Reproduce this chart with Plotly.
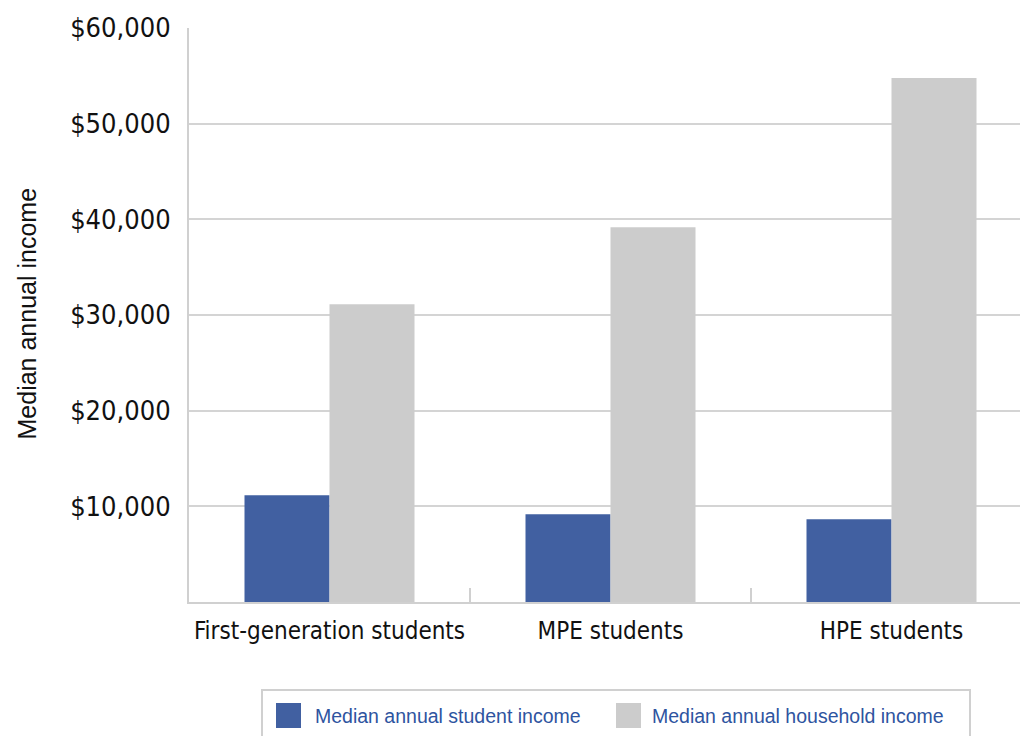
import plotly.graph_objects as go

categories = ["First-generation students", "MPE students", "HPE students"]
student_income = [11150, 9160, 8640]
household_income = [31130, 39180, 54770]
series_names = ["Median annual student income", "Median annual household income"]
series_colors = ["#4160A1", "#CCCCCC"]
y_ticks = [0, 10000, 20000, 30000, 40000, 50000, 60000]
y_tick_labels = ["", "$10,000", "$20,000", "$30,000", "$40,000", "$50,000", "$60,000"]

TICK_FONT = "DejaVu Sans Condensed, Liberation Sans Narrow, sans-serif"
LEG_FONT = "Liberation Sans, Arial, sans-serif"

fig = go.Figure()
for name, vals, col in zip(series_names, [student_income, household_income], series_colors):
    fig.add_trace(go.Bar(x=categories, y=vals, name=name, marker=dict(color=col, line=dict(width=0)),
                         showlegend=False))

W, H = 1020, 736
L, R, T, B = 189, 0, 28, 134
pw = W - L - R
ph = H - T - B

fig.update_layout(
    width=W, height=H,
    margin=dict(l=L, r=R, t=T, b=B),
    paper_bgcolor="white", plot_bgcolor="white",
    barmode="group", bargap=0.395, bargroupgap=0,
    xaxis=dict(
        range=[-0.5, -0.5 + pw / 281.0],
        automargin=False, tickangle=0,
        showline=True, linecolor="#D0D0D0", linewidth=2,
        ticks="inside", tickson="boundaries", ticklen=14, tickcolor="#D0D0D0", tickwidth=2,
        showgrid=False,
        ticklabelstandoff=6,
        tickfont=dict(family=TICK_FONT, size=24, color="#111111"),
    ),
    yaxis=dict(
        range=[0, 60000],
        automargin=False,
        tickvals=y_ticks, ticktext=y_tick_labels,
        showline=True, linecolor="#D0D0D0", linewidth=2,
        showgrid=True, gridcolor="#D4D4D4", gridwidth=2,
        zeroline=False,
        ticks="outside", ticklen=11, tickcolor="rgba(0,0,0,0)",
        tickfont=dict(family=TICK_FONT, size=27, color="#111111"),
    ),
)

# y-axis title
fig.add_annotation(text="Median annual income", xref="paper", yref="paper",
                   x=(26 - L) / pw, y=(602 - 313.5) / ph, textangle=-90, showarrow=False,
                   font=dict(family=LEG_FONT, size=25, color="#111111"),
                   xanchor="center", yanchor="middle")

# custom legend
def px_x(x):
    return (x - L) / pw

def px_y(y):
    return (H - B - y) / ph

fig.add_shape(type="rect", xref="paper", yref="paper",
              x0=px_x(262), x1=px_x(970), y0=px_y(748), y1=px_y(690),
              line=dict(color="#D0D0D0", width=2), fillcolor="white", layer="above")
legend_x = [276, 616]
text_x = [313, 650]
for name, col, lx, tx in zip(series_names, series_colors, legend_x, text_x):
    fig.add_shape(type="rect", xref="paper", yref="paper",
                  x0=px_x(lx), x1=px_x(lx + 25), y0=px_y(728), y1=px_y(703),
                  line=dict(width=0), fillcolor=col, layer="above")
    fig.add_annotation(text=name, xref="paper", yref="paper", x=px_x(tx), y=px_y(715.5),
                       xanchor="left", yanchor="middle", showarrow=False,
                       font=dict(family=LEG_FONT, size=19.5, color="#2E54A0"))

fig.write_html("out.html")
